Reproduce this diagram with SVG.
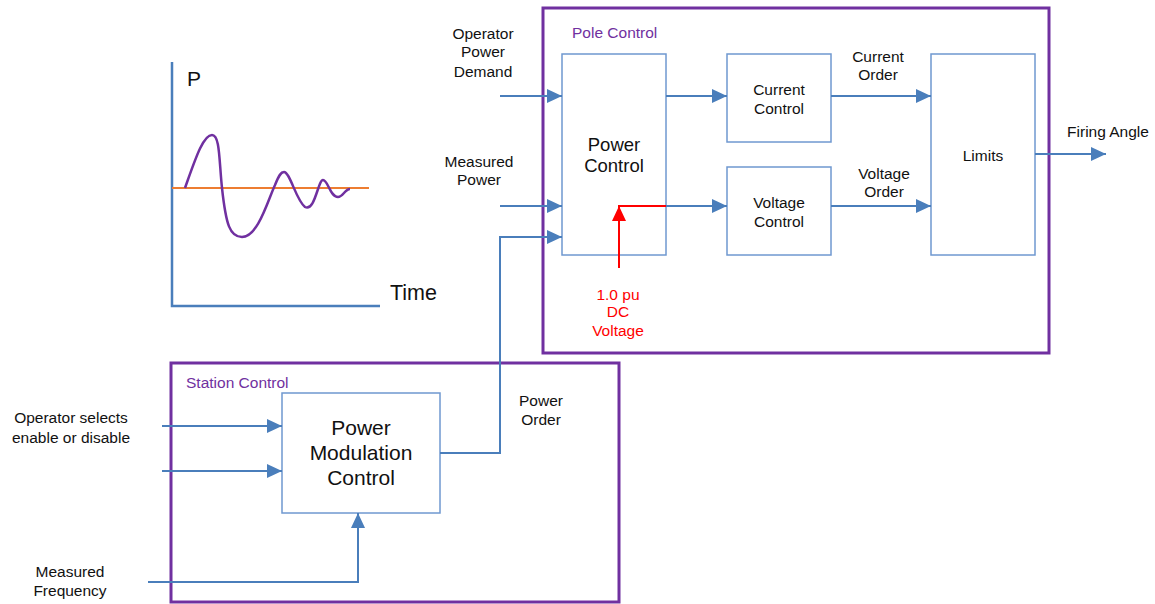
<svg xmlns="http://www.w3.org/2000/svg" width="1155" height="604" viewBox="0 0 1155 604">
<defs>
<style>
text{font-family:"Liberation Sans",Arial,sans-serif;fill:#111}
.s{font-size:15.5px}
.m{text-anchor:middle}
.box{fill:#fff;stroke:#6f98d0;stroke-width:1.5}
.frame{fill:none;stroke:#7030a0;stroke-width:3}
.ln{fill:none;stroke:#4a7ebb;stroke-width:2}
.ttl{fill:#7030a0;font-size:15.5px}
</style>
<marker id="ah" markerUnits="userSpaceOnUse" markerWidth="16" markerHeight="14" refX="15" refY="7" orient="auto">
<path d="M0,0 L15,7 L0,14 Z" fill="#4a7ebb"/>
</marker>
<marker id="ahr" markerUnits="userSpaceOnUse" markerWidth="16" markerHeight="14" refX="15" refY="7" orient="auto">
<path d="M0,0 L15,7 L0,14 Z" fill="#ff0000"/>
</marker>
</defs>
<rect width="1155" height="604" fill="#fff"/>

<g id="graph">
<path d="M172,62 V306 H380" fill="none" stroke="#4a7ebb" stroke-width="2.5"/>
<line x1="172" y1="188" x2="369" y2="188" stroke="#ed7d31" stroke-width="2"/>
<path d="M185,188 C195,160 203,135 212,135 C220,135 219,160 222,188 C226,225 230,237 242,237 C258,237 268,200 275,185 C279,175 281,172 284,172 C290,172 296,200 305,207 C315,212 318,180 323,180 C328,180 330,197 338,197 C343,197 345,189 350,189" fill="none" stroke="#7030a0" stroke-width="2.5"/>
<text x="187" y="86" style="font-size:21px">P</text>
<text x="390" y="300" style="font-size:21.5px">Time</text>
</g>

<g id="pole-control">
<rect x="543" y="8" width="506" height="345" class="frame"/>
<text x="572" y="38" class="ttl">Pole Control</text>
</g>

<g id="station-control">
<rect x="171" y="363" width="448" height="239" class="frame"/>
<text x="186" y="388" class="ttl">Station Control</text>
</g>

<g id="power-control">
<rect x="562" y="54" width="104" height="201" class="box"/>
<text x="614" y="151" class="m" style="font-size:18.5px">Power</text>
<text x="614" y="172" class="m" style="font-size:18.5px">Control</text>
</g>

<g id="current-control">
<rect x="727" y="54" width="104" height="88" class="box"/>
<text x="779" y="95" class="m s">Current</text>
<text x="779" y="114" class="m s">Control</text>
</g>

<g id="voltage-control">
<rect x="727" y="167" width="104" height="88" class="box"/>
<text x="779" y="208" class="m s">Voltage</text>
<text x="779" y="227" class="m s">Control</text>
</g>

<g id="limits">
<rect x="931" y="54" width="104" height="201" class="box"/>
<text x="983" y="161" class="m s">Limits</text>
</g>

<g id="power-modulation-control">
<rect x="282" y="393" width="158" height="120" class="box"/>
<text x="361" y="435" class="m" style="font-size:21px">Power</text>
<text x="361" y="460" class="m" style="font-size:21px">Modulation</text>
<text x="361" y="485" class="m" style="font-size:21px">Control</text>
</g>

<g id="labels">
<text x="483" y="39" class="m s">Operator</text>
<text x="483" y="57" class="m s">Power</text>
<text x="483" y="77" class="m s">Demand</text>
<text x="479" y="167" class="m s">Measured</text>
<text x="479" y="185" class="m s">Power</text>
<text x="878" y="62" class="m s">Current</text>
<text x="878" y="80" class="m s">Order</text>
<text x="884" y="179" class="m s">Voltage</text>
<text x="884" y="197" class="m s">Order</text>
<text x="1108" y="137" class="m s">Firing Angle</text>
<text x="618" y="300" class="m s" style="fill:#ff0000">1.0 pu</text>
<text x="618" y="317" class="m s" style="fill:#ff0000">DC</text>
<text x="618" y="336" class="m s" style="fill:#ff0000">Voltage</text>
<text x="541" y="406" class="m s">Power</text>
<text x="541" y="425" class="m s">Order</text>
<text x="71" y="423" class="m s">Operator selects</text>
<text x="71" y="443" class="m s">enable or disable</text>
<text x="70" y="577" class="m s">Measured</text>
<text x="70" y="596" class="m s">Frequency</text>
</g>

<g id="connectors">
<line x1="500" y1="96" x2="562" y2="96" class="ln" marker-end="url(#ah)"/>
<line x1="500" y1="206" x2="562" y2="206" class="ln" marker-end="url(#ah)"/>
<path d="M440,453 H500 V237 H562" class="ln" marker-end="url(#ah)"/>
<line x1="666" y1="96" x2="727" y2="96" class="ln" marker-end="url(#ah)"/>
<line x1="666" y1="206" x2="727" y2="206" class="ln" marker-end="url(#ah)"/>
<line x1="831" y1="96" x2="931" y2="96" class="ln" marker-end="url(#ah)"/>
<line x1="831" y1="206" x2="931" y2="206" class="ln" marker-end="url(#ah)"/>
<line x1="1035" y1="154" x2="1106" y2="154" class="ln" marker-end="url(#ah)"/>
<line x1="162" y1="426" x2="282" y2="426" class="ln" marker-end="url(#ah)"/>
<line x1="162" y1="471" x2="282" y2="471" class="ln" marker-end="url(#ah)"/>
<path d="M148,582 H358 V513" class="ln" marker-end="url(#ah)"/>
<line x1="618" y1="206" x2="666" y2="206" stroke="#ff0000" stroke-width="2"/>
<line x1="619" y1="268" x2="619" y2="206" stroke="#ff0000" stroke-width="2" marker-end="url(#ahr)"/>
</g>
</svg>
